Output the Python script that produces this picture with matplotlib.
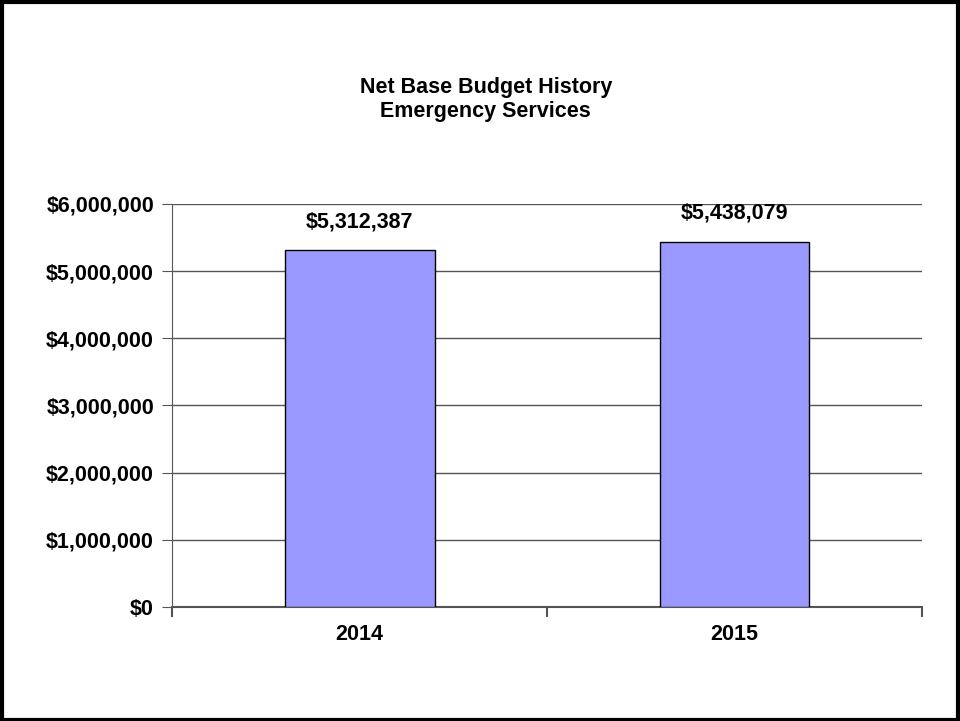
import matplotlib.pyplot as plt
import matplotlib.ticker as mticker
from matplotlib.patches import Rectangle

years = ["2014", "2015"]
budget = [5312387, 5438079]
yticks = [0, 1000000, 2000000, 3000000, 4000000, 5000000, 6000000]

plt.rcParams["font.family"] = ["Liberation Sans", "DejaVu Sans"]
fs = 15.5

fig = plt.figure(figsize=(9.6, 7.21), dpi=100)
fig.patch.set_facecolor("white")
ax = fig.add_axes([0.1792, 0.1581, 0.7812, 0.559])

pos = [0, 1]
ax.bar(pos, budget, width=0.4, color="#9999ff", edgecolor="black", linewidth=1, zorder=3)
for x, v in zip(pos, budget):
    ax.text(x, v + 270000, "${:,.0f}".format(v), ha="center", va="bottom",
            fontsize=fs, fontweight="bold")

ax.set_xlim(-0.5, 1.5)
ax.set_ylim(0, 6000000)
ax.set_yticks(yticks)
ax.yaxis.set_major_formatter(mticker.FuncFormatter(lambda v, p: "${:,.0f}".format(v)))
ax.grid(axis="y", color="#555555", linewidth=1, zorder=0)

# categories labelled in the middle, tick marks on the boundaries
ax.set_xticks([-0.5, 0.5, 1.5])
ax.set_xticklabels([])
ax.set_xticks(pos, minor=True)
ax.set_xticklabels(years, minor=True)
ax.tick_params(axis="x", which="major", direction="out", length=7, color="#555555", width=1.5)
ax.tick_params(axis="x", which="minor", length=0, pad=12, labelsize=fs)
ax.tick_params(axis="y", direction="out", length=7, color="#555555", pad=6, labelsize=fs)
for lbl in ax.get_xticklabels(minor=True) + ax.get_yticklabels():
    lbl.set_fontweight("bold")

for side in ["top", "right"]:
    ax.spines[side].set_visible(False)
ax.spines["left"].set_color("#555555")
ax.spines["bottom"].set_color("#555555")
ax.spines["bottom"].set_linewidth(1.5)

fig.text(0.506, 0.862, "Net Base Budget History\nEmergency Services", ha="center", va="center",
         fontsize=fs, fontweight="bold", linespacing=1.15)

# page border
fig.patches.append(Rectangle((0.002, 0.002), 0.996, 0.995, transform=fig.transFigure,
                             fill=False, edgecolor="black", linewidth=3))

fig.savefig("out.png", dpi=100)
